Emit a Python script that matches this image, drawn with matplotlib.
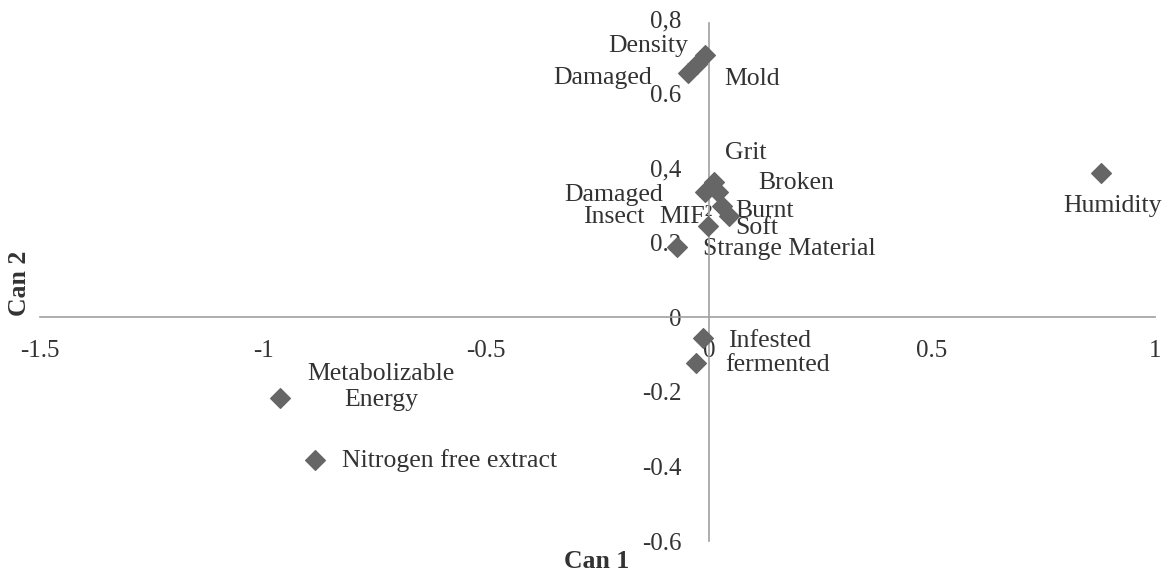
import numpy as np
import matplotlib
matplotlib.use("Agg")
import matplotlib.pyplot as plt
from matplotlib.ticker import FixedLocator, FixedFormatter

plt.rcParams['font.family'] = ['Liberation Serif', 'DejaVu Serif']

# canonical scores
names = ['Humidity', 'Metabolizable\nEnergy', 'Nitrogen free extract', 'Infested', 'fermented',
         'Density', 'Mold', 'Damaged', 'Grit', 'Broken', 'Damaged\nInsect', 'Burnt', 'Soft',
         'MIF\u00b2', 'Strange Material']
can1 = [0.879, -0.962, -0.883, -0.013, -0.029,
        -0.009, -0.027, -0.047, 0.011, 0.020, -0.009, 0.029, 0.045,
        -0.002, -0.072]
can2 = [0.387, -0.216, -0.384, -0.056, -0.123,
        0.704, 0.680, 0.656, 0.363, 0.336, 0.336, 0.299, 0.272,
        0.245, 0.189]

xticks = [-1.5, -1, -0.5, 0, 0.5, 1]
xtick_labels = ['-1.5', '-1', '-0.5', '0', '0.5', '1']
yticks = [-0.6, -0.4, -0.2, 0, 0.2, 0.4, 0.6, 0.8]
ytick_labels = ['-0.6', '-0.4', '-0.2', '0', '0.2', '0,4', '0.6', '0,8']

# label offsets in pixels (dx, dy, ha, linespacing)
offsets = {
    'Humidity': (11, -33, 'center', 1.2),
    'Metabolizable\nEnergy': (101, 11, 'center', 1.2),
    'Nitrogen free extract': (27, 0, 'left', 1.2),
    'Infested': (25, -3, 'left', 1.2),
    'fermented': (29, -2, 'left', 1.2),
    'Density': (-17, 9, 'right', 1.2),
    'Mold': (27, -15, 'left', 1.2),
    'Damaged': (-36, -5, 'right', 1.2),
    'Grit': (11, 29, 'left', 1.2),
    'Broken': (40, 9, 'left', 1.2),
    'Damaged\nInsect': (-91, -14, 'center', 1.0),
    'Burnt': (13, -5, 'left', 1.2),
    'Soft': (6, -12, 'left', 1.2),
    'MIF\u00b2': (-49, 9, 'left', 1.2),
    'Strange Material': (26, -2, 'left', 1.2),
}

W, H = 1168, 572
fig = plt.figure(figsize=(W / 100, H / 100), dpi=100)
ax = fig.add_axes([40 / W, 31 / H, 1115 / W, 522 / H])
ax.set_xlim(-1.5, 1)
ax.set_ylim(-0.6, 0.8)

axis_col = '#a0a0a0'
txt_col = '#333333'
for s in ['top', 'right']:
    ax.spines[s].set_visible(False)
ax.spines['left'].set_position(('data', 0))
ax.spines['bottom'].set_position(('data', 0))
ax.spines['left'].set_color(axis_col)
ax.spines['bottom'].set_color(axis_col)
ax.spines['left'].set_linewidth(1.2)
ax.spines['bottom'].set_linewidth(1.2)
ax.spines['left'].set_bounds(-0.6, 0.79)

ax.xaxis.set_major_locator(FixedLocator(xticks))
ax.xaxis.set_major_formatter(FixedFormatter(xtick_labels))
ax.yaxis.set_major_locator(FixedLocator(yticks))
ax.yaxis.set_major_formatter(FixedFormatter(ytick_labels))
ax.tick_params(axis='x', length=0, pad=16, labelsize=18, labelcolor=txt_col)
ax.tick_params(axis='y', length=0, pad=20, labelsize=18, labelcolor=txt_col)
ax.patch.set_alpha(0)

ax.scatter(can1, can2, marker='D', s=100, color='#666666', zorder=3)

for n, x, y in zip(names, can1, can2):
    dx, dy, ha, ls = offsets[n]
    ax.annotate(n, (x, y), xytext=(dx * 0.72, dy * 0.72), textcoords='offset points',
                ha=ha, va='center', fontsize=18.5, color=txt_col, zorder=2,
                multialignment='center', linespacing=ls)

fig.text(597 / W, 1 - 561 / H, 'Can 1', ha='center', va='center', fontsize=18.5,
         fontweight='bold', color=txt_col)
fig.text(20 / W, 1 - 283 / H, 'Can 2', ha='center', va='center', fontsize=18.5,
         fontweight='bold', color=txt_col, rotation=90)

fig.savefig('out.png', dpi=100)
